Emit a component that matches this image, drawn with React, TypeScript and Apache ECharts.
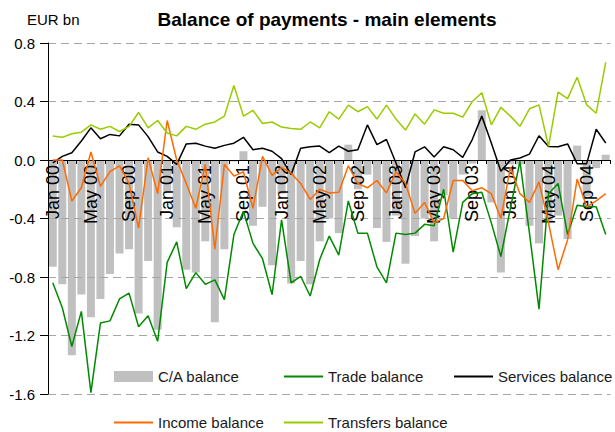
import React, { useEffect, useRef } from "react";
import * as echarts from "echarts";

const months = ["Jan", "Feb", "Mar", "Apr", "May", "Jun", "Jul", "Aug", "Sep", "Oct", "Nov", "Dec"];
const years = ["00", "01", "02", "03", "04"];
const categories: string[] = [];
years.forEach((y) => months.forEach((m) => categories.push(m + " " + y)));
categories.length = 59; // Jan 00 .. Nov 04

const caBalance = [
  -0.73, -0.85, -1.335, -0.92, -1.075, -0.95, -0.78, -0.64, -0.61, -1.05, -0.69, -1.16,
  -0.22, -0.46, -0.75, -0.77, -0.556, -1.11, -0.61, -0.01, 0.06, -0.45, -0.32, -0.72,
  -0.23, -0.845, -0.69, -0.85, -0.556, -0.4, -0.5, 0.105, -0.2, -0.1, -0.465, -0.56,
  -0.38, -0.71, -0.52, -0.4, -0.556, -0.24, -0.4, -0.1, -0.025, 0.34, -0.29, -0.77,
  -0.03, -0.03, -0.45, -0.57, -0.42, -0.38, -0.54, 0.098, -0.25, -0.055, 0.036,
];
const tradeBalance = [
  -0.84, -1.01, -1.275, -1.035, -1.59, -1.115, -1.1, -0.95, -0.91, -1.14, -1.065, -1.24,
  -0.7, -0.56, -0.88, -0.77, -0.85, -0.82, -0.955, -0.51, -0.35, -0.57, -0.675, -0.92,
  -0.41, -0.84, -0.795, -0.93, -0.68, -0.52, -0.65, -0.28, -0.5, -0.5, -0.73, -0.84,
  -0.5, -0.51, -0.5, -0.44, -0.45, -0.2, -0.63, -0.29, -0.23, -0.22, -0.43, -0.66,
  -0.33, -0.01, -0.5, -1.02, -0.23, -0.16, -0.51, -0.31, -0.32, -0.32, -0.51,
];
const servicesBalance = [
  -0.02, 0.025, 0.05, 0.13, 0.22, 0.145, 0.175, 0.165, 0.245, 0.24, 0.16, 0.055,
  0.025, -0.03, 0.11, 0.115, 0.095, 0.08, 0.1, 0.115, 0.155, 0.07, 0.08, 0.06,
  0.01, -0.1, 0.08, 0.09, 0.095, 0.05, 0.095, 0.06, 0.07, 0.24, 0.105, 0.14,
  -0.02, -0.19, 0.055, 0.09, 0.02, 0.09, 0.07, 0.018, 0.14, 0.3, 0.116, -0.077,
  0.0, 0.014, 0.04, 0.166, 0.093, 0.09, 0.11, -0.025, -0.025, 0.21, 0.116,
];
const incomeBalance = [
  0.0, 0.0, -0.28, -0.19, 0.055, -0.18, -0.08, -0.04, -0.16, -0.465, 0.015, -0.23,
  0.27, 0.0, -0.16, -0.33, -0.03, -0.61, -0.03, -0.11, -0.08, -0.33, 0.025, -0.105,
  -0.05, -0.09, -0.16, -0.27, -0.2, -0.225, -0.22, -0.04, -0.16, -0.19, -0.14, -0.225,
  -0.08, -0.16, -0.365, -0.29, -0.43, -0.4, -0.14, -0.14, -0.21, -0.19, -0.23, -0.4,
  -0.05, -0.23, -0.29, -0.15, -0.43, -0.75, -0.545, -0.13, -0.32, -0.28, -0.23,
];
const transfersBalance = [
  0.164, 0.155, 0.18, 0.19, 0.24, 0.21, 0.23, 0.195, 0.23, 0.325, 0.22, 0.27,
  0.185, 0.165, 0.23, 0.21, 0.245, 0.26, 0.3, 0.51, 0.3, 0.34, 0.25, 0.26,
  0.225, 0.215, 0.21, 0.26, 0.22, 0.33, 0.28, 0.375, 0.33, 0.365, 0.28, 0.375,
  0.28, 0.205, 0.315, 0.245, 0.343, 0.32, 0.32, 0.293, 0.4, 0.46, 0.24, 0.36,
  0.3, 0.23, 0.35, 0.377, 0.093, 0.464, 0.42, 0.566, 0.377, 0.32, 0.668,
];
const yTicks = { min: -1.6, max: 0.8, interval: 0.4 };

const FONT = "'Liberation Sans', Arial, sans-serif";
const GRID_TOP = 43;
const GRID_BOTTOM = 38;
const HEIGHT = 432;

export default function App() {
  const ref = useRef<HTMLDivElement>(null);
  useEffect(() => {
    if (!ref.current) return;
    const chart = echarts.init(ref.current, undefined, { renderer: "svg" });
    const plotH = HEIGHT - GRID_TOP - GRID_BOTTOM;
    const zeroFromBottom = (plotH * (0 - yTicks.min)) / (yTicks.max - yTicks.min);
    const legendText = { fontFamily: FONT, fontSize: 15, color: "#1a1a1a" };
    const mkLegend = (name: string, left: number, top: number, bar: boolean) => ({
      data: [name],
      left,
      top,
      padding: 0,
      icon: "rect",
      itemWidth: 39,
      itemHeight: bar ? 11 : 2,
      itemGap: 0,
      textStyle: { ...legendText, padding: [0, 0, 0, 0] },
      selectedMode: false,
    });
    chart.setOption({
      animation: false,
      backgroundColor: "#fff",
      graphic: [
        {
          type: "text",
          style: {
            x: 27,
            y: 19,
            text: "EUR bn",
            font: "15px " + FONT,
            fill: "#000",
            textAlign: "left",
            textVerticalAlign: "middle",
          },
        },
        {
          type: "text",
          style: {
            x: 327,
            y: 19,
            text: "Balance of payments - main elements",
            font: "bold 19px " + FONT,
            fill: "#000",
            textAlign: "center",
            textVerticalAlign: "middle",
          },
        },
      ],
      legend: [
        mkLegend("C/A balance", 114, 369, true),
        mkLegend("Trade balance", 284, 369, false),
        mkLegend("Services balance", 454, 369, false),
        mkLegend("Income balance", 114, 415, false),
        mkLegend("Transfers balance", 284, 415, false),
      ],
      grid: {
        left: 48,
        right: 4.5,
        top: GRID_TOP,
        bottom: GRID_BOTTOM,
        outerBoundsMode: "none",
        containLabel: false,
      },
      xAxis: {
        type: "category",
        data: categories,
        position: "bottom",
        offset: -zeroFromBottom,
        boundaryGap: true,
        z: 2,
        axisLine: { onZero: false, lineStyle: { color: "#000", width: 1 } },
        axisTick: { show: true, interval: 0, length: 4, lineStyle: { color: "#000" } },
        axisLabel: {
          interval: 3,
          rotate: 90,
          margin: 5,
          fontFamily: FONT,
          fontSize: 18,
          color: "#000",
        },
        splitLine: { show: false },
      },
      yAxis: {
        type: "value",
        min: yTicks.min,
        max: yTicks.max,
        interval: yTicks.interval,
        z: 2,
        axisLine: { show: true, lineStyle: { color: "#000", width: 1 } },
        axisTick: { show: true, length: 8, lineStyle: { color: "#000" } },
        axisLabel: {
          margin: 13,
          fontFamily: FONT,
          fontSize: 15,
          color: "#000",
          formatter: (v: number) => v.toFixed(1),
        },
        splitLine: {
          show: true,
          lineStyle: { color: "#a6a6a6", type: [8, 5], width: 1 },
        },
      },
      series: [
        {
          name: "C/A balance",
          type: "bar",
          data: caBalance,
          barWidth: 8,
          itemStyle: { color: "#c0c0c0" },
          z: 1,
        },
        {
          name: "Trade balance",
          type: "line",
          data: tradeBalance,
          symbol: "none",
          lineStyle: { color: "#008a00", width: 1.5 },
          itemStyle: { color: "#008a00" },
          z: 3,
        },
        {
          name: "Services balance",
          type: "line",
          data: servicesBalance,
          symbol: "none",
          lineStyle: { color: "#000000", width: 1.5 },
          itemStyle: { color: "#000000" },
          z: 3,
        },
        {
          name: "Income balance",
          type: "line",
          data: incomeBalance,
          symbol: "none",
          lineStyle: { color: "#ff6a00", width: 1.5 },
          itemStyle: { color: "#ff6a00" },
          z: 3,
        },
        {
          name: "Transfers balance",
          type: "line",
          data: transfersBalance,
          symbol: "none",
          lineStyle: { color: "#99cc00", width: 1.5 },
          itemStyle: { color: "#99cc00" },
          z: 3,
        },
      ],
    });
    return () => chart.dispose();
  }, []);
  return (
    <div
      ref={ref}
      style={{ position: "fixed", left: 0, top: 0, width: 615, height: 432 }}
    />
  );
}
